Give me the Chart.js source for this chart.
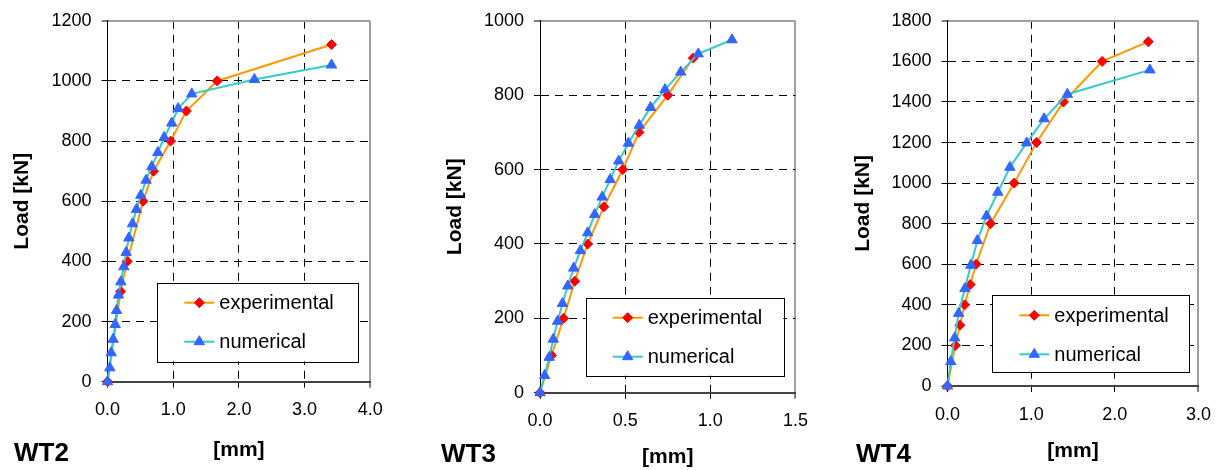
<!DOCTYPE html>
<html>
<head>
<meta charset="utf-8">
<script src="https://cdn.jsdelivr.net/npm/chart.js@4"></script>
<style>
  body { margin: 0; background: #fff; width: 1223px; height: 470px; position: relative; overflow: hidden;
         font-family: 'Liberation Sans', Arial, sans-serif; }
  canvas { position: absolute; top: 0; }
  .tag { position: absolute; font-weight: bold; font-size: 26px; line-height: 26px; color: #000; }
</style>
</head>
<body>
<canvas id="wt2" width="405" height="470" style="left:0px"></canvas>
<canvas id="wt3" width="410" height="470" style="left:410px"></canvas>
<canvas id="wt4" width="403" height="470" style="left:820px"></canvas>
<div class="tag" style="left:14px; top:439px">WT2</div>
<div class="tag" style="left:441px; top:440px">WT3</div>
<div class="tag" style="left:856px; top:440px">WT4</div>
<script>
// WT2
const wt2ExpDisp = [0, 0.20, 0.30, 0.54, 0.70, 0.96, 1.20, 1.67, 3.41];
const wt2ExpLoad = [0, 300, 400, 600, 700, 800, 900, 1000, 1121];
const wt2NumDisp = [0, 0.035, 0.056, 0.086, 0.117, 0.137, 0.167, 0.203, 0.248, 0.284, 0.325, 0.380,
                    0.441, 0.507, 0.588, 0.674, 0.766, 0.862, 0.978, 1.075, 1.283, 2.236, 3.41];
const wt2NumLoad = [0, 46, 96, 141, 190, 237, 288, 332, 382, 430, 478, 525,
                    573, 620, 670, 715, 762, 812, 860, 908, 957, 1005, 1053];
const wt2XTicks = [0, 1, 2, 3, 4];
const wt2YTicks = [0, 200, 400, 600, 800, 1000, 1200];

// WT3
const wt3ExpDisp = [0, 0.068, 0.138, 0.204, 0.280, 0.375, 0.486, 0.581, 0.750, 0.900];
const wt3ExpLoad = [0, 100, 200, 300, 400, 500, 600, 700, 800, 900];
const wt3NumDisp = [0, 0.027, 0.054, 0.078, 0.103, 0.132, 0.163, 0.198, 0.237, 0.280, 0.321,
                    0.365, 0.412, 0.462, 0.519, 0.583, 0.649, 0.734, 0.826, 0.929, 1.127];
const wt3NumLoad = [0, 46, 95, 144, 192, 240, 287, 335, 382, 430, 479,
                    526, 573, 623, 671, 719, 767, 815, 862, 911, 949];
const wt3XTicks = [0, 0.5, 1.0, 1.5];
const wt3YTicks = [0, 200, 400, 600, 800, 1000];

// WT4
const wt4ExpDisp = [0, 0.094, 0.149, 0.204, 0.271, 0.342, 0.514, 0.797, 1.064, 1.386, 1.849, 2.40];
const wt4ExpLoad = [0, 200, 300, 400, 500, 600, 800, 1000, 1200, 1400, 1600, 1697];
const wt4NumDisp = [0, 0.039, 0.086, 0.133, 0.208, 0.279, 0.357, 0.467, 0.601, 0.746, 0.946, 1.154, 1.433, 2.419];
const wt4NumLoad = [0, 120, 237, 358, 480, 595, 717, 838, 955, 1078, 1198, 1317, 1438, 1558];
const wt4XTicks = [0, 1, 2, 3];
const wt4YTicks = [0, 200, 400, 600, 800, 1000, 1200, 1400, 1600, 1800];

const seriesNames = ['experimental', 'numerical'];

const FONT = "'Liberation Sans', Arial, sans-serif";
Chart.defaults.font.family = FONT;
Chart.defaults.color = '#000';

function pairs(xs, ys) {
    return xs.map((x, i) => ({ x: x, y: ys[i] }));
}

// legend drawn as a framed box inside the plot, like the original
const boxLegend = {
    id: 'boxLegend',
    afterDraw(chart, args, opts) {
        const ctx = chart.ctx;
        const b = opts.box;
        ctx.save();
        ctx.setLineDash([]);
        ctx.fillStyle = '#fff';
        ctx.fillRect(b.x, b.y, b.w, b.h);
        ctx.strokeStyle = '#000';
        ctx.lineWidth = 1;
        ctx.strokeRect(Math.round(b.x) + 0.5, Math.round(b.y) + 0.5, Math.round(b.w), Math.round(b.h));
        ctx.font = '20px ' + FONT;
        ctx.textBaseline = 'middle';
        [1, 0].forEach((di, i) => {
            const ds = chart.data.datasets[di];
            const y = b.y + [20, 59][i];
            ctx.strokeStyle = ds.borderColor;
            ctx.lineWidth = 2;
            ctx.beginPath();
            ctx.moveTo(b.x + 27, y);
            ctx.lineTo(b.x + 57, y);
            ctx.stroke();
            ctx.fillStyle = ds.pointBackgroundColor;
            ctx.strokeStyle = ds.pointBorderColor;
            ctx.lineWidth = 1;
            Chart.helpers.drawPoint(ctx, { pointStyle: ds.pointStyle, radius: ds.pointRadius, rotation: 0, borderWidth: 1 }, b.x + 42, y);
            ctx.fillStyle = '#000';
            ctx.fillText(ds.label, b.x + 62, y + 1);
        });
        ctx.restore();
    }
};

function makeChart(id, geo, xTicks, yTicks, exp, num) {
    const canvas = document.getElementById(id);
    const W = canvas.width, H = canvas.height;
    const xMax = xTicks[xTicks.length - 1];
    const yMax = yTicks[yTicks.length - 1];
    const isEdge = (c, max) => c.tick && Math.abs(c.tick.value - max) < 1e-9;

    return new Chart(canvas.getContext('2d'), {
        type: 'scatter',
        data: {
            datasets: [{
                label: seriesNames[1],
                data: num,
                showLine: true,
                borderColor: '#33CCCC',
                borderWidth: 2,
                pointStyle: 'triangle',
                pointRadius: 6,
                pointBackgroundColor: '#3366FF',
                pointBorderColor: '#3366FF',
                pointBorderWidth: 1,
                clip: false,
                order: 1
            }, {
                label: seriesNames[0],
                data: exp,
                showLine: true,
                borderColor: '#FF9900',
                borderWidth: 2,
                pointStyle: 'rectRot',
                pointRadius: 5,
                pointBackgroundColor: '#FF0000',
                pointBorderColor: '#FF0000',
                pointBorderWidth: 1,
                clip: false,
                order: 2
            }]
        },
        options: {
            responsive: false,
            animation: false,
            events: [],
            layout: { padding: { left: 0, top: geo.top, right: W - geo.right, bottom: 0 } },
            scales: {
                x: {
                    type: 'linear',
                    min: xTicks[0],
                    max: xMax,
                    afterBuildTicks: s => { s.ticks = xTicks.map(v => ({ value: v })); },
                    ticks: {
                        callback: v => Number(v).toFixed(1),
                        font: { size: 18 },
                        color: '#000',
                        padding: 12,
                        maxRotation: 0
                    },
                    grid: {
                        color: c => isEdge(c, xMax) ? '#a0a0a0' : '#000',
                        lineWidth: c => isEdge(c, xMax) ? 2 : 1,
                        tickLength: 6,
                        tickColor: '#000',
                        tickWidth: 1
                    },
                    border: { color: '#444', width: 2, dash: c => isEdge(c, xMax) ? [] : [8, 6] },
                    title: {
                        display: true,
                        text: '[mm]',
                        font: { size: 21, weight: 'bold' },
                        color: '#000',
                        padding: { top: 0, bottom: geo.xTitlePad }
                    },
                    afterFit: s => { s.height = H - geo.bottom; }
                },
                y: {
                    type: 'linear',
                    min: yTicks[0],
                    max: yMax,
                    afterBuildTicks: s => { s.ticks = yTicks.map(v => ({ value: v })); },
                    ticks: { callback: v => String(v), font: { size: 18 }, color: '#000', padding: 10 },
                    grid: {
                        color: c => isEdge(c, yMax) ? '#a0a0a0' : '#000',
                        lineWidth: c => isEdge(c, yMax) ? 2 : 1,
                        tickLength: 6,
                        tickColor: '#000',
                        tickWidth: 1
                    },
                    border: { color: '#000', width: 1, dash: c => isEdge(c, yMax) ? [] : [8, 6] },
                    title: {
                        display: true,
                        text: 'Load [kN]',
                        font: { size: 21, weight: 'bold' },
                        color: '#000',
                        padding: { top: geo.yTitlePad, bottom: 0 }
                    },
                    afterFit: s => { s.width = geo.left; }
                }
            },
            plugins: {
                legend: { display: false },
                tooltip: { enabled: false },
                boxLegend: { box: geo.legend }
            }
        },
        plugins: [boxLegend]
    });
}

makeChart('wt2',
    { left: 107.5, right: 370.3, top: 17.3, bottom: 381.7, yTitlePad: 10, xTitlePad: 7,
      legend: { x: 157.3, y: 282.7, w: 201.4, h: 78.6 } },
    wt2XTicks, wt2YTicks, pairs(wt2ExpDisp, wt2ExpLoad), pairs(wt2NumDisp, wt2NumLoad));

makeChart('wt3',
    { left: 130, right: 387.3, top: 20, bottom: 392.7, yTitlePad: 33, xTitlePad: 0,
      legend: { x: 175.7, y: 297.7, w: 197.6, h: 78 } },
    wt3XTicks, wt3YTicks, pairs(wt3ExpDisp, wt3ExpLoad), pairs(wt3NumDisp, wt3NumLoad));

makeChart('wt4',
    { left: 127.5, right: 381.7, top: 16, bottom: 386, yTitlePad: 31, xTitlePad: 6,
      legend: { x: 172.3, y: 295.3, w: 197.4, h: 77.4 } },
    wt4XTicks, wt4YTicks, pairs(wt4ExpDisp, wt4ExpLoad), pairs(wt4NumDisp, wt4NumLoad));
</script>
</body>
</html>
